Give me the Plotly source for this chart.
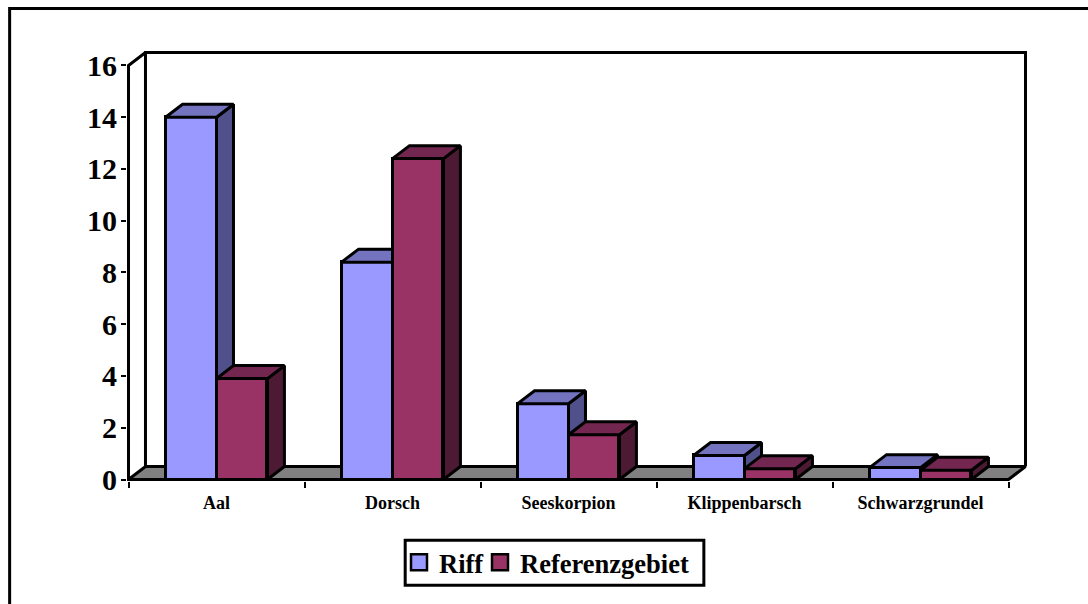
import plotly.graph_objects as go

categories = ["Aal", "Dorsch", "Seeskorpion", "Klippenbarsch", "Schwarzgrundel"]
riff = [14.0, 8.4, 2.93, 0.93, 0.46]
referenzgebiet = [3.9, 12.4, 1.73, 0.42, 0.36]
y_ticks = [0, 2, 4, 6, 8, 10, 12, 14, 16]

W, H = 1088, 604
L, R, T, B = 128, 1009, 65, 480   # front plane of the chart, in page pixels
PX = (R - L) / len(categories)    # pixels per category
PY = (B - T) / 16                 # pixels per y unit
BAR = 51 / PX                     # bar width in category units
DX = 17 / PX                      # depth offset, x units
DY = 13 / PY                      # depth offset, y units
PAD = 1.5                         # room so edge lines are not clipped
LW = 3
FONT = "Liberation Serif"
N = len(categories)

COL = {
    "Riff": ("#9999FF", "#7373C0", "#50508A"),
    "Referenzgebiet": ("#993366", "#732650", "#4D1A33"),
}

centers = [i + 0.5 for i in range(N)]

plot_l, plot_r = L - PAD, R + 17 + PAD
plot_t, plot_b = T - 13 - PAD, B + PAD


def px_x(p):
    return (p - plot_l) / (plot_r - plot_l)


def px_y(p):
    return (plot_b - p) / (plot_b - plot_t)


def poly(xs, ys, color, ax="", line=LW):
    return go.Scatter(
        x=xs, y=ys, mode="lines", fill="toself", fillcolor=color,
        line=dict(color="black", width=line),
        showlegend=False, hoverinfo="skip", xaxis="x" + ax, yaxis="y" + ax,
    )


def edge(xs, ys):
    return go.Scatter(
        x=xs, y=ys, mode="lines", line=dict(color="black", width=LW),
        showlegend=False, hoverinfo="skip",
    )


def faces(x0, x1, v, name, ax):
    _, top, side = COL[name]
    return [
        poly([x1, x1 + DX, x1 + DX, x1, x1], [0, DY, v + DY, v, 0], side, ax),
        poly([x0, x0 + DX, x1 + DX, x1, x0], [v, v + DY, v + DY, v, v], top, ax),
    ]


fig = go.Figure()

# Floor, back wall and front axes: base layer
fig.add_trace(poly([0, N, N + DX, DX, 0], [0, 0, DY, DY, 0], "#808080"))
fig.add_trace(edge([DX, DX, N + DX, N + DX], [DY, 16 + DY, 16 + DY, DY]))
fig.add_trace(edge([N, 0, 0, DX], [0, 0, 16, 16 + DY]))

# Riff: middle layer
fig.add_trace(go.Bar(
    x=centers, y=riff, width=BAR, offset=-BAR, marker=dict(
        color=COL["Riff"][0], line=dict(color="black", width=LW)),
    showlegend=False, name="Riff", xaxis="x2", yaxis="y2"))
for c, v in zip(centers, riff):
    for t in faces(c - BAR, c, v, "Riff", "2"):
        fig.add_trace(t)

# Referenzgebiet: front layer
fig.add_trace(go.Bar(
    x=centers, y=referenzgebiet, width=BAR, offset=0, marker=dict(
        color=COL["Referenzgebiet"][0], line=dict(color="black", width=LW)),
    showlegend=False, name="Referenzgebiet", xaxis="x3", yaxis="y3"))
for c, v in zip(centers, referenzgebiet):
    for t in faces(c, c + BAR, v, "Referenzgebiet", "3"):
        fig.add_trace(t)

# Legend entries, one legend per series so their spacing can be set
for name, lg in zip(COL, ["legend", "legend2"]):
    fig.add_trace(go.Scatter(
        x=[None], y=[None], mode="markers", name=name, legend=lg,
        marker=dict(symbol="square", size=16, color=COL[name][0],
                    line=dict(color="black", width=2.5))))

xrange_ = [-PAD / PX, N + DX + PAD / PX]
yrange_ = [-PAD / PY, 16 + DY + PAD / PY]


def legend_at(px):
    return dict(
        orientation="h", xref="container", yref="container",
        x=px / W, y=1 - 538.5 / H, xanchor="left", yanchor="top",
        bgcolor="rgba(0,0,0,0)", borderwidth=0,
        font=dict(family=FONT, size=26.5, color="black", weight="bold"),
        itemsizing="trace", itemwidth=30,
    )


fig.update_layout(
    width=W, height=H,
    margin=dict(l=plot_l, r=W - plot_r, t=plot_t, b=H - plot_b, autoexpand=False),
    paper_bgcolor="white", plot_bgcolor="rgba(0,0,0,0)",
    font=dict(family=FONT, color="black"),
    bargap=0,
    xaxis=dict(
        range=xrange_, tickmode="array", tickvals=centers, ticktext=categories,
        ticks="", showgrid=False, zeroline=False, showline=False,
        ticklabelstandoff=9,
        tickfont=dict(family=FONT, size=18, color="black", weight="bold"),
        minor=dict(tickmode="array", tickvals=list(range(N + 1)), ticks="outside",
                   ticklen=6, tickwidth=2, tickcolor="black", showgrid=False),
    ),
    yaxis=dict(
        range=yrange_, tickmode="array", tickvals=y_ticks, ticks="outside",
        ticklen=5, tickwidth=2, tickcolor="black", showgrid=False, zeroline=False,
        showline=False, ticklabelstandoff=-2,
        tickfont=dict(family=FONT, size=30, color="black", weight="bold"),
    ),
    xaxis2=dict(range=xrange_, overlaying="x", visible=False),
    yaxis2=dict(range=yrange_, overlaying="y", visible=False),
    xaxis3=dict(range=xrange_, overlaying="x", visible=False),
    yaxis3=dict(range=yrange_, overlaying="y", visible=False),
    legend=legend_at(399),
    legend2=legend_at(480),
    shapes=[
        dict(type="rect", xref="paper", yref="paper", layer="below",
             x0=px_x(9), x1=px_x(W + 20), y0=px_y(H + 20), y1=px_y(8),
             line=dict(color="black", width=3), fillcolor="rgba(0,0,0,0)"),
        dict(type="rect", xref="paper", yref="paper", layer="below",
             x0=px_x(405), x1=px_x(704), y0=px_y(586), y1=px_y(541),
             line=dict(color="black", width=3), fillcolor="white"),
    ],
)

fig.write_html(
    "out.html",
    config={"displayModeBar": False},
    post_script="document.body.style.margin='0';document.documentElement.style.overflow='hidden';",
)
